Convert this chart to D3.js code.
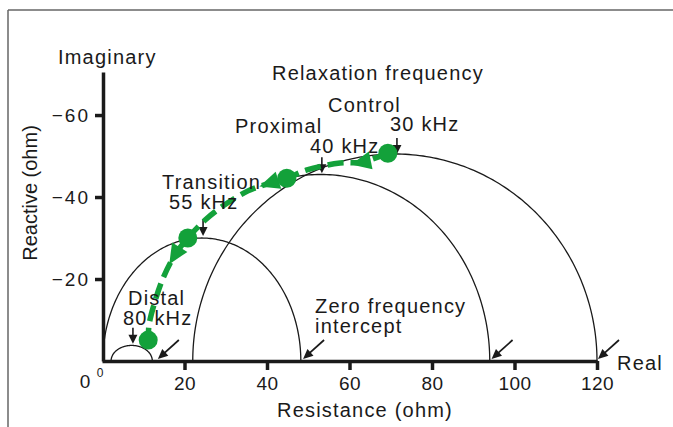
<!DOCTYPE html>
<html><head><meta charset="utf-8">
<script src="https://cdn.jsdelivr.net/npm/d3@7"></script>
<style>
body{margin:0;background:#fff}
text{font-family:"Liberation Sans",Arial,Helvetica,sans-serif;fill:#1a1a1a}
</style>
</head><body>
<svg id="c" width="673" height="427"></svg>
<script>
// ---- data ----
const xTicks = [20, 40, 60, 80, 100, 120];
const yTicks = [20, 40, 60];
const yTickLabels = ["\u221220", "\u221240", "\u221260"];

// impedance arcs: centre resistance, half-width (ohm), peak reactance (ohm), start angle (deg)
const arcNames   = ["Small", "Distal", "Proximal", "Control"];
const arcCenter  = [7.2, 24.2, 53, 71];
const arcRadius  = [5, 24, 41, 49];
const arcPeak    = [3.8, 30, 45.5, 50.5];
const arcStart   = [180, 180, 100, 180];

// relaxation-frequency markers (resistance, reactance at arrow tip)
const relaxR = [71.5, 53.3, 24.5, 7.5];
const relaxX = [50.5, 45.8, 30.5, 4.2];

// zero-frequency intercept arrows (resistance)
const zeroR = [13.3, 48.5, 94.2, 120];

// green trajectory Control -> Proximal -> Transition -> Distal
const pathR = [69.3, 63.0, 57.7, 49.7, 44.8, 40.7, 35.4, 29.3, 25.0, 20.8, 17.7, 14.8, 12.8, 11.4, 11.2];
const pathX = [50.7, 48.5, 48.3, 46.6, 44.6, 43.4, 41.5, 37.8, 34.4, 30.0, 25.9, 20.2, 14.4, 8.8, 5.1];
const blobIdx  = [0, 4, 9, 14];
const arrowIdx = [1, 5, 10];

// ---- chart ----
const svg = d3.select("#c");
const x = d3.scaleLinear().domain([0, 120]).range([102, 597]);
const y = d3.scaleLinear().domain([0, 70.5]).range([361, 72]);
const ink = "#1a1a1a";
const green = "#13a13a";

// frame
svg.append("line").attr("x1", 8).attr("x2", 673).attr("y1", 10).attr("y2", 10)
  .attr("stroke", "#666").attr("stroke-width", 1.5);
svg.append("line").attr("x1", 8).attr("x2", 8).attr("y1", 10).attr("y2", 427)
  .attr("stroke", "#666").attr("stroke-width", 1.5);

// arcs
const arcLine = d3.line().x(d => x(d[0])).y(d => y(d[1]));
arcNames.forEach((n, i) => {
  const pts = d3.range(arcStart[i], -0.01, -1).map(deg => {
    const t = deg * Math.PI / 180;
    return [arcCenter[i] + arcRadius[i] * Math.cos(t), arcPeak[i] * Math.sin(t)];
  });
  svg.append("path").attr("d", arcLine(pts)).attr("fill", "none")
    .attr("stroke", ink).attr("stroke-width", 1.3);
});

// axes
const xAxis = svg.append("g").attr("transform", `translate(0,${y(0)})`)
  .call(d3.axisBottom(x).tickValues(xTicks).tickSize(9).tickSizeOuter(0).tickPadding(7));
const yAxis = svg.append("g").attr("transform", `translate(${x(0) + 1},0)`)
  .call(d3.axisLeft(y).tickValues(yTicks).tickSize(8).tickSizeOuter(0).tickPadding(5)
    .tickFormat((d, i) => yTickLabels[i]));
[xAxis, yAxis].forEach(g => {
  g.select(".domain").attr("stroke", ink).attr("stroke-width", 3.5);
  g.selectAll(".tick line").attr("stroke", ink).attr("stroke-width", 3.5);
  g.selectAll(".tick text").attr("font-size", 19).attr("fill", ink)
    .attr("font-family", '"Liberation Sans",Arial,sans-serif');
});
xAxis.selectAll(".tick text").style("letter-spacing", "0.5px");
yAxis.selectAll(".tick text").style("letter-spacing", "2px");

// origin labels
svg.append("text").attr("x", 85).attr("y", 388).attr("text-anchor", "middle")
  .attr("font-size", 19).text("0");
svg.append("text").attr("x", 100).attr("y", 377).attr("text-anchor", "middle")
  .attr("font-size", 12).text("0");

// relaxation markers (black down arrows)
relaxR.forEach((r, i) => {
  const tx = x(r), ty = y(relaxX[i]);
  svg.append("line").attr("x1", tx).attr("x2", tx).attr("y1", ty - 16).attr("y2", ty - 6)
    .attr("stroke", ink).attr("stroke-width", 1.6);
  svg.append("path").attr("d", `M${tx},${ty} L${tx - 4.5},${ty - 9} L${tx + 4.5},${ty - 9} Z`)
    .attr("fill", ink);
});

// zero-frequency intercept arrows
zeroR.forEach(r => {
  const tx = x(r) + 1, ty = y(0) - 2;
  const ux = 21, uy = -19, L = Math.hypot(ux, uy), dx = ux / L, dy = uy / L;
  svg.append("line").attr("x1", tx + dx * 6).attr("y1", ty + dy * 6)
    .attr("x2", tx + ux).attr("y2", ty + uy).attr("stroke", ink).attr("stroke-width", 1.7);
  const bx = tx + dx * 10, by = ty + dy * 10, nx = -dy, ny = dx;
  svg.append("path").attr("d",
    `M${tx},${ty} L${bx + nx * 4.5},${by + ny * 4.5} L${bx - nx * 4.5},${by - ny * 4.5} Z`)
    .attr("fill", ink);
});

// green trajectory
const gPts = pathR.map((r, i) => [x(r), y(pathX[i])]);
svg.append("path").attr("d", d3.line().curve(d3.curveCatmullRom)(gPts))
  .attr("fill", "none").attr("stroke", green).attr("stroke-width", 5.5)
  .attr("stroke-dasharray", "16 7");
arrowIdx.forEach(i => {
  const p = gPts[i], a = gPts[i - 1], b = gPts[i + 1];
  let dx = b[0] - a[0], dy = b[1] - a[1];
  const L = Math.hypot(dx, dy); dx /= L; dy /= L;
  const nx = -dy, ny = dx;
  const tip = [p[0] + dx * 11, p[1] + dy * 11];
  const base = [p[0] - dx * 9, p[1] - dy * 9];
  svg.append("path").attr("d",
    `M${tip[0]},${tip[1]} L${base[0] + nx * 9},${base[1] + ny * 9} L${base[0] - nx * 9},${base[1] - ny * 9} Z`)
    .attr("fill", green);
});
blobIdx.forEach(i => {
  svg.append("circle").attr("cx", gPts[i][0]).attr("cy", gPts[i][1]).attr("r", 9.5).attr("fill", green);
});

// labels
const labels = [
  ["Imaginary", 58, 64],
  ["Relaxation frequency", 272, 80],
  ["Control", 328, 112],
  ["30 kHz", 390, 131],
  ["Proximal", 235, 133],
  ["40 kHz", 310, 153],
  ["Transition", 162, 189],
  ["55 kHz", 169, 209],
  ["Distal", 128, 305],
  ["80 kHz", 123, 325],
  ["Zero frequency", 315, 313],
  ["intercept", 315, 333],
  ["Real", 617, 370],
  ["Resistance (ohm)", 277, 417]
];
labels.forEach(([t, lx, ly]) => {
  svg.append("text").attr("x", lx).attr("y", ly).attr("font-size", 20)
    .style("letter-spacing", "1.2px").text(t);
});
svg.append("text").attr("transform", "translate(37,193) rotate(-90)")
  .attr("text-anchor", "middle").attr("font-size", 20)
  .text("Reactive (ohm)");
</script>
</body></html>
